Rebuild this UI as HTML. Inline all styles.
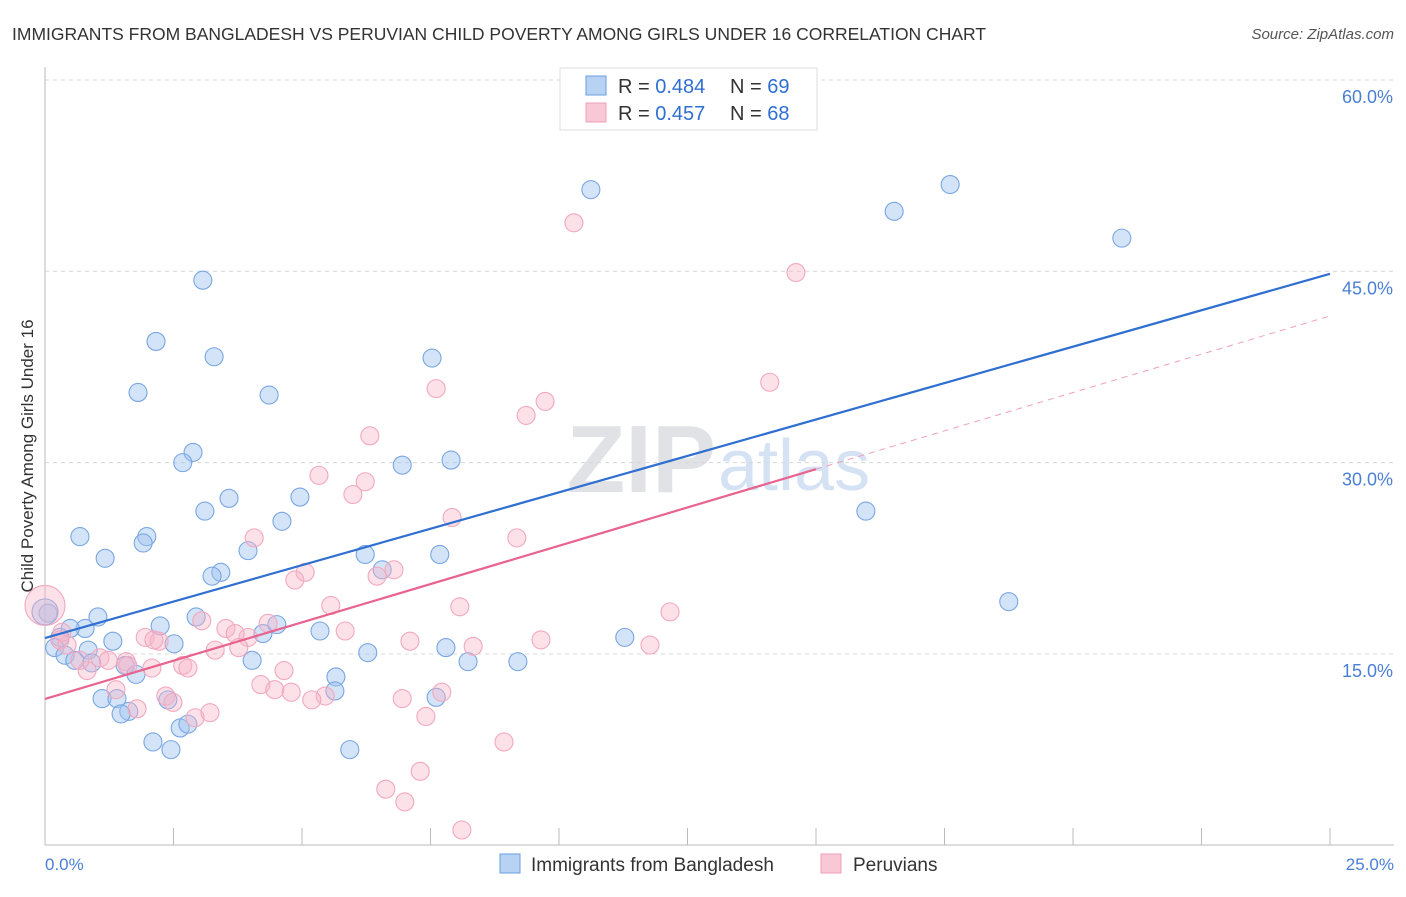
<!DOCTYPE html>
<html><head><meta charset="utf-8"><style>
body{margin:0;background:#fff;font-family:"Liberation Sans",sans-serif;}
svg text{font-family:"Liberation Sans",sans-serif;}
</style></head><body>
<svg id="c" width="1406" height="892" xmlns="http://www.w3.org/2000/svg">
<text x="12" y="40" font-size="17.5" fill="#333">IMMIGRANTS FROM BANGLADESH VS PERUVIAN CHILD POVERTY AMONG GIRLS UNDER 16 CORRELATION CHART</text>
<text x="1394" y="39" font-size="15" fill="#555" font-style="italic" text-anchor="end">Source: ZipAtlas.com</text>
<text x="716" y="492" font-size="96" fill="#e0e2e6" text-anchor="end" font-family="Liberation Serif" font-weight="bold">ZIP</text>
<text x="718" y="490" font-size="72" fill="#d4e2f4">atlas</text>
<g id="grid"></g><g id="axes"></g><g id="pts"></g><g id="lines"></g>
<text transform="translate(33,456) rotate(-90)" font-size="17" fill="#333" text-anchor="middle">Child Poverty Among Girls Under 16</text>
<text x="45" y="870" font-size="17" fill="#4a7fd4">0.0%</text>
<text x="1394" y="870" font-size="17" fill="#4a7fd4" text-anchor="end">25.0%</text>
<g>
<rect x="560" y="68" width="257" height="62" fill="#fff" stroke="#ddd"/>
<rect x="586" y="76" width="20" height="19" fill="#b8d2f4" stroke="#6a9de0"/>
<rect x="586" y="103" width="20" height="19" fill="#f9c8d6" stroke="#f0a0b8"/>
<text x="618" y="93" font-size="20" fill="#333">R = <tspan fill="#2f6fd0">0.484</tspan><tspan x="730">N = </tspan><tspan fill="#2f6fd0">69</tspan></text>
<text x="618" y="120" font-size="20" fill="#333">R = <tspan fill="#2f6fd0">0.457</tspan><tspan x="730">N = </tspan><tspan fill="#2f6fd0">68</tspan></text>
</g>
<g>
<rect x="500" y="854" width="20" height="19" fill="#b8d2f4" stroke="#6a9de0"/>
<text x="531" y="871" font-size="19" fill="#333">Immigrants from Bangladesh</text>
<rect x="821" y="854" width="20" height="19" fill="#f9c8d6" stroke="#f0a0b8"/>
<text x="853" y="871" font-size="19" fill="#333">Peruvians</text>
</g>
</svg>
<script>
const yTicks=[15,30,45,60];
const yTickLabels=["15.0%","30.0%","45.0%","60.0%"];
const xTicks=[0,2.5,5,7.5,10,12.5,15,17.5,20,22.5,25];
const blueX=[10.62,17.61,16.52,20.95,3.07,2.16,3.29,7.53,1.81,4.36,2.88,2.68,7.90,6.95,3.58,4.96,3.11,4.61,15.97,0.68,1.98,1.91,1.17,3.95,6.23,7.68,3.42,3.25,6.56,18.75,1.03,2.94,0.06,2.24,4.51,4.24,5.35,2.51,11.28,1.32,0.78,0.49,0.29,0.19,0.84,7.80,6.28,0.39,0.58,4.03,8.23,9.20,0.91,1.56,1.77,5.66,5.64,1.11,1.40,7.61,2.39,1.63,1.48,2.63,2.78,2.10,2.45,5.93,0.0];
const blueY=[51.4,51.8,49.7,47.6,44.3,39.5,38.3,38.2,35.5,35.3,30.8,30.0,30.2,29.8,27.2,27.3,26.2,25.4,26.2,24.2,24.2,23.7,22.5,23.1,22.8,22.8,21.4,21.1,21.6,19.1,17.9,17.9,18.2,17.2,17.3,16.6,16.8,15.8,16.3,16.0,17.0,17.0,16.3,15.5,15.3,15.5,15.1,14.9,14.5,14.5,14.4,14.4,14.3,14.1,13.4,13.2,12.1,11.5,11.5,11.6,11.4,10.5,10.3,9.2,9.5,8.1,7.5,7.5,18.3];
const pinkX=[10.29,14.61,14.10,7.61,9.73,9.36,6.32,5.33,6.23,5.99,7.92,9.18,4.07,5.06,6.79,6.46,4.86,12.16,5.56,8.07,3.05,4.34,3.52,3.95,3.70,5.84,7.10,9.65,1.95,2.22,11.77,8.33,3.77,3.31,0.29,0.43,1.07,1.23,1.58,2.08,2.68,2.78,4.65,0.82,4.20,4.47,4.79,6.95,5.45,5.19,7.72,2.35,2.49,1.38,1.79,2.92,3.21,7.41,8.93,7.30,6.63,7.00,8.11,0.0,0.33,0.68,1.61,2.12];
const pinkY=[48.8,44.9,36.3,35.8,34.8,33.7,32.1,29.0,28.5,27.5,25.7,24.1,24.1,21.4,21.6,21.1,20.8,18.3,18.8,18.7,17.6,17.4,17.0,16.3,16.6,16.8,16.0,16.1,16.3,16.0,15.7,15.6,15.5,15.3,16.1,15.7,14.7,14.5,14.4,13.9,14.1,13.9,13.7,13.7,12.6,12.2,12.0,11.5,11.7,11.4,12.0,11.7,11.2,12.2,10.7,10.0,10.4,10.1,8.1,5.8,4.4,3.4,1.2,18.8,16.7,14.5,14.1,16.1];
const blueTrend=[16.25,44.8];
const pinkTrend=[11.47,41.5];
const pinkSolidEnd=15;
const NS="http://www.w3.org/2000/svg";
const X=v=>45+v/25*1285, Y=v=>845.3-v*12.756;
function mk(p,t,a){const e=document.createElementNS(NS,t);for(const k in a)e.setAttribute(k,a[k]);p.appendChild(e);return e;}
const grid=document.getElementById('grid'),axes=document.getElementById('axes'),pts=document.getElementById('pts'),lines=document.getElementById('lines');
yTicks.forEach((t,i)=>{
 const l=mk(grid,'line',{x1:45,x2:1394,y1:Y(t),y2:Y(t),stroke:'#d8d8d8','stroke-dasharray':'4,4'});
 
 
 const tx=mk(grid,'text',{x:1393,y:Y(t)+23,'font-size':18,fill:'#4a7fd4','text-anchor':'end'});
 tx.textContent=yTickLabels[i];
 
 
});
const ya=mk(axes,'line',{x1:45,x2:45,y1:67,y2:845,stroke:'#bbb'});


const xa=mk(axes,'line',{x1:45,x2:1394,y1:845,y2:845,stroke:'#bbb'});


xTicks.forEach(t=>{
 const l=mk(axes,'line',{x1:X(t),x2:X(t),y1:828,y2:845,stroke:'#bbb'});
 
 
});
function dots(xs,ys,fill,stroke,name){
 xs.forEach((x,i)=>{
  const big=(x===0);
  const c=mk(pts,'circle',{cx:X(x),cy:Y(ys[i]),r:big?(name==='pink-point'?20:13):9,fill:fill,stroke:stroke,'stroke-width':1.1});
  
  
 });
}
dots(blueX,blueY,'rgba(160,196,240,0.45)','#79a6e2','blue-point');
dots(pinkX,pinkY,'rgba(248,180,200,0.4)','#f2a8be','pink-point');
const bl=mk(lines,'line',{x1:X(0),y1:Y(blueTrend[0]),x2:X(25),y2:Y(blueTrend[1]),stroke:'#2f6fd0','stroke-width':2.2});


const pv=x=>pinkTrend[0]+(pinkTrend[1]-pinkTrend[0])*x/25;
const pl=mk(lines,'line',{x1:X(0),y1:Y(pv(0)),x2:X(pinkSolidEnd),y2:Y(pv(pinkSolidEnd)),stroke:'#e8648f','stroke-width':2.2});


const pd=mk(lines,'line',{x1:X(pinkSolidEnd),y1:Y(pv(pinkSolidEnd)),x2:X(25),y2:Y(pv(25)),stroke:'#f0a0b8','stroke-width':1,'stroke-dasharray':'6,5'});


</script>
</body></html>
